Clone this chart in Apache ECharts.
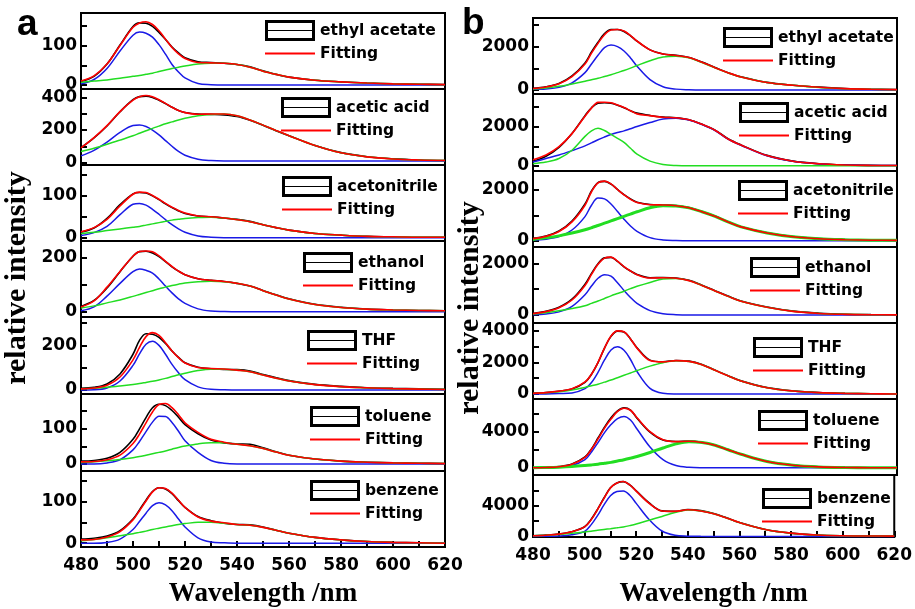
<!DOCTYPE html>
<html>
<head>
<meta charset="utf-8">
<script src="https://cdn.jsdelivr.net/npm/echarts@6/dist/echarts.min.js"></script>
<style>
  html, body { margin: 0; padding: 0; background: #fff; }
  #chart { width: 915px; height: 609px; }
</style>
</head>
<body>
<div id="chart"></div>
<script>
// Emission wavelength grid (nm), denser around the main emission band
const WAVELENGTH = [480, 485, 490, 495, 500, 502.5, 505, 507.5, 510, 512.5, 515, 517.5, 520, 525, 530, 535, 540, 545, 550, 555, 560, 570, 580, 590, 600, 610, 620];

const SOLVENTS = ['ethyl acetate', 'acetic acid', 'acetonitrile', 'ethanol', 'THF', 'toluene', 'benzene'];

// ---- panel a : measured spectrum, fitted sum and the two fitted bands ----
const A_EA_MEASURED = [9, 22, 53, 101, 148, 157, 156, 148, 133, 115, 96, 81, 69, 59, 57, 55, 52, 46, 36, 27, 20, 12, 8, 5, 3, 2, 1];
const A_EA_FIT      = [10, 23, 53, 100, 146, 157, 160, 153, 137, 116, 95, 79, 67, 57, 56, 55, 52, 45, 35, 27, 20, 12, 8, 5, 3, 2, 1];
const A_EA_BAND1    = [3, 14, 42, 86, 126, 134, 131, 121, 102, 78, 52, 33, 18, 4, 1, 0, 0, 0, 0, 0, 0, 0, 0, 0, 0, 0, 0];
const A_EA_BAND2    = [7, 10, 13, 17, 22, 24, 27, 30, 34, 38, 42, 45, 48, 53, 55, 55, 52, 45, 35, 27, 20, 12, 8, 5, 3, 2, 1];

const A_AA_MEASURED = [92, 152, 225, 312, 386, 405, 408, 400, 383, 362, 340, 320, 308, 298, 296, 293, 283, 260, 229, 196, 165, 105, 61, 36, 23, 16, 13];
const A_AA_FIT      = [90, 153, 227, 313, 383, 404, 412, 404, 386, 364, 340, 320, 307, 297, 298, 298, 288, 262, 230, 197, 165, 105, 60, 35, 22, 16, 13];
const A_AA_BAND1    = [41, 75, 125, 185, 228, 231, 222, 200, 170, 135, 100, 68, 45, 20, 12, 10, 10, 10, 10, 10, 10, 10, 10, 10, 10, 10, 10];
const A_AA_BAND2    = [68, 88, 112, 138, 165, 180, 195, 210, 224, 238, 250, 262, 272, 287, 296, 298, 288, 262, 230, 197, 165, 105, 60, 35, 22, 16, 13];

const A_AN_MEASURED = [13, 23, 46, 79, 105, 108, 107, 100, 91, 81, 72, 64, 58, 52, 50, 47, 44, 39, 31, 24, 18, 10, 6, 3, 2, 1, 1];
const A_AN_FIT      = [14, 24, 44, 76, 104, 109, 108, 101, 92, 82, 73, 65, 59, 52, 50, 47, 43, 38, 31, 24, 18, 10, 6, 3, 2, 1, 1];
const A_AN_BAND1    = [5, 12, 27, 55, 80, 82, 78, 68, 56, 43, 31, 21, 13, 4, 1, 0, 0, 0, 0, 0, 0, 0, 0, 0, 0, 0, 0];
const A_AN_BAND2    = [10, 13, 17, 21, 25, 27, 30, 33, 36, 39, 42, 44, 46, 48, 49, 47, 43, 38, 31, 24, 18, 10, 6, 3, 2, 1, 1];

const A_ET_MEASURED = [20, 42, 88, 148, 205, 222, 223, 217, 204, 185, 166, 150, 137, 122, 116, 112, 105, 95, 79, 63, 48, 28, 17, 10, 7, 5, 4];
const A_ET_FIT      = [18, 40, 91, 149, 205, 222, 224, 221, 206, 186, 167, 150, 137, 122, 116, 112, 105, 95, 78, 62, 47, 27, 16, 10, 7, 5, 4];
const A_ET_BAND1    = [4, 18, 58, 105, 148, 158, 153, 143, 121, 95, 70, 48, 31, 11, 3, 1, 0, 0, 0, 0, 0, 0, 0, 0, 0, 0, 0];
const A_ET_BAND2    = [14, 22, 33, 44, 57, 64, 71, 78, 85, 91, 97, 102, 106, 111, 113, 111, 105, 95, 78, 62, 47, 27, 16, 10, 7, 5, 4];

const A_THF_MEASURED = [8, 12, 27, 72, 160, 222, 252, 250, 236, 208, 175, 146, 122, 102, 95, 92, 91, 85, 69, 55, 42, 25, 16, 10, 7, 5, 3];
const A_THF_FIT      = [5, 9, 21, 58, 135, 191, 239, 257, 245, 212, 175, 145, 121, 101, 96, 94, 89, 82, 67, 53, 40, 24, 15, 10, 6, 4, 2];
const A_THF_BAND1    = [0, 1, 9, 40, 110, 162, 205, 218, 200, 160, 115, 77, 46, 14, 3, 1, 0, 0, 0, 0, 0, 0, 0, 0, 0, 0, 0];
const A_THF_BAND2    = [5, 8, 12, 18, 25, 29, 34, 39, 45, 52, 60, 68, 75, 87, 93, 93, 89, 82, 67, 53, 40, 24, 15, 10, 6, 4, 2];

const A_TOL_MEASURED = [8, 10, 16, 33, 70, 100, 132, 160, 170, 166, 152, 133, 112, 86, 68, 60, 57, 56, 46, 35, 25, 14, 8, 5, 3, 2, 1];
const A_TOL_FIT      = [6, 7, 12, 25, 58, 85, 117, 148, 169, 172, 160, 140, 117, 90, 70, 62, 56, 52, 44, 34, 25, 14, 8, 5, 3, 2, 1];
const A_TOL_BAND1    = [0, 0, 3, 12, 40, 64, 92, 119, 136, 135, 118, 93, 66, 33, 10, 2, 0, 0, 0, 0, 0, 0, 0, 0, 0, 0, 0];
const A_TOL_BAND2    = [4, 6, 9, 13, 18, 21, 25, 29, 33, 37, 42, 47, 51, 57, 60, 60, 56, 52, 44, 34, 25, 14, 8, 5, 3, 2, 1];

const A_BZ_MEASURED = [10, 12, 17, 30, 58, 80, 103, 124, 133, 130, 119, 102, 86, 64, 54, 48, 45, 44, 39, 31, 24, 14, 8, 4, 2, 1, 0];
const A_BZ_FIT      = [8, 9, 15, 28, 56, 78, 101, 123, 133, 131, 120, 103, 86, 63, 53, 49, 45, 43, 38, 31, 24, 14, 8, 4, 2, 1, 0];
const A_BZ_BAND1    = [0, 0, 2, 10, 33, 52, 72, 90, 97, 92, 78, 58, 39, 13, 3, 1, 0, 0, 0, 0, 0, 0, 0, 0, 0, 0, 0];
const A_BZ_BAND2    = [6, 9, 13, 18, 23, 26, 29, 33, 36, 39, 42, 45, 47, 50, 50, 48, 45, 43, 38, 31, 24, 14, 8, 4, 2, 1, 0];

// ---- panel b ----
const B_EA_MEASURED = [80, 150, 300, 650, 1250, 1750, 2200, 2600, 2790, 2790, 2700, 2500, 2250, 1850, 1660, 1600, 1500, 1290, 1040, 800, 610, 350, 220, 130, 70, 35, 15];
const B_EA_FIT      = [70, 140, 290, 620, 1200, 1700, 2150, 2550, 2770, 2790, 2720, 2510, 2260, 1850, 1660, 1590, 1500, 1280, 1030, 800, 600, 345, 215, 125, 65, 32, 15];
const B_EA_BAND1    = [30, 50, 120, 330, 800, 1200, 1600, 1950, 2070, 2000, 1800, 1480, 1100, 480, 150, 40, 10, 0, 0, 0, 0, 0, 0, 0, 0, 0, 0];
const B_EA_BAND2    = [50, 90, 170, 280, 400, 470, 540, 620, 700, 800, 900, 1010, 1130, 1350, 1520, 1560, 1480, 1260, 1020, 790, 600, 345, 215, 120, 60, 30, 15];

const B_AA_MEASURED = [240, 500, 950, 1650, 2550, 2950, 3180, 3200, 3180, 3080, 2950, 2800, 2680, 2560, 2480, 2440, 2340, 2110, 1820, 1380, 1070, 540, 250, 120, 60, 35, 25];
const B_AA_FIT      = [320, 560, 980, 1640, 2520, 2930, 3220, 3230, 3200, 3090, 2960, 2800, 2640, 2550, 2470, 2440, 2340, 2110, 1810, 1370, 1060, 530, 245, 115, 55, 32, 25];
const B_AA_BAND1    = [205, 380, 560, 780, 1020, 1170, 1330, 1470, 1600, 1700, 1780, 1890, 2000, 2200, 2380, 2420, 2330, 2100, 1800, 1360, 1050, 520, 240, 110, 50, 30, 25];
const B_AA_BAND2    = [120, 200, 380, 800, 1500, 1780, 1910, 1800, 1600, 1400, 1200, 900, 600, 250, 80, 25, 10, 10, 10, 10, 10, 10, 10, 10, 10, 10, 10];

const B_AN_MEASURED = [90, 180, 380, 770, 1450, 1960, 2290, 2340, 2230, 2020, 1820, 1650, 1520, 1430, 1410, 1385, 1305, 1150, 970, 750, 550, 310, 160, 80, 40, 20, 12];
const B_AN_FIT      = [80, 170, 360, 740, 1400, 1930, 2280, 2350, 2240, 2020, 1810, 1630, 1510, 1420, 1410, 1380, 1300, 1140, 960, 740, 545, 305, 155, 75, 38, 18, 12];
const B_AN_BAND1    = [26, 60, 160, 420, 950, 1400, 1680, 1650, 1450, 1150, 850, 580, 370, 120, 30, 8, 0, 0, 0, 0, 0, 0, 0, 0, 0, 0, 0];
const B_AN_BAND2    = [50, 110, 190, 300, 430, 510, 600, 690, 780, 870, 960, 1050, 1140, 1300, 1380, 1370, 1295, 1140, 960, 740, 545, 305, 155, 75, 38, 18, 12];

const B_ET_MEASURED = [60, 140, 300, 610, 1190, 1610, 1980, 2210, 2230, 2070, 1860, 1700, 1570, 1440, 1450, 1430, 1340, 1150, 940, 730, 540, 310, 150, 70, 30, 15, 8];
const B_ET_FIT      = [53, 130, 280, 580, 1140, 1570, 1960, 2200, 2240, 2080, 1870, 1700, 1560, 1430, 1440, 1422, 1330, 1140, 930, 720, 530, 300, 140, 60, 25, 10, 5];
const B_ET_BAND1    = [13, 40, 120, 330, 780, 1120, 1420, 1560, 1500, 1250, 950, 680, 450, 170, 50, 12, 0, 0, 0, 0, 0, 0, 0, 0, 0, 0, 0];
const B_ET_BAND2    = [40, 90, 160, 250, 360, 450, 540, 640, 740, 830, 920, 1020, 1110, 1260, 1390, 1410, 1330, 1140, 930, 720, 530, 300, 140, 60, 25, 10, 5];

const B_THF_MEASURED = [40, 85, 175, 320, 740, 1250, 1980, 2900, 3640, 3970, 3920, 3480, 2920, 2140, 2040, 2120, 2080, 1870, 1510, 1160, 830, 410, 200, 90, 45, 18, 6];
const B_THF_FIT      = [40, 85, 180, 330, 760, 1250, 2000, 2900, 3660, 3990, 3930, 3480, 2900, 2120, 2030, 2110, 2060, 1850, 1500, 1150, 820, 400, 190, 85, 40, 15, 5];
const B_THF_BAND1    = [0, 5, 30, 70, 340, 730, 1370, 2150, 2780, 2980, 2760, 2180, 1420, 360, 50, 5, 0, 0, 0, 0, 0, 0, 0, 0, 0, 0, 0];
const B_THF_BAND2    = [40, 80, 150, 260, 420, 520, 620, 750, 880, 1030, 1180, 1330, 1480, 1760, 1980, 2100, 2060, 1850, 1500, 1150, 820, 400, 190, 85, 40, 15, 5];

const B_TOL_MEASURED = [15, 40, 130, 420, 1200, 2100, 3300, 4500, 5550, 6300, 6650, 6400, 5500, 3950, 3080, 2920, 2960, 2830, 2520, 2020, 1510, 710, 300, 110, 35, 12, 2];
const B_TOL_FIT      = [10, 35, 120, 390, 1150, 2050, 3200, 4400, 5400, 6250, 6600, 6380, 5550, 4000, 3100, 2900, 2940, 2805, 2500, 2000, 1500, 700, 290, 100, 30, 10, 0];
const B_TOL_BAND1    = [0, 5, 50, 250, 900, 1750, 2800, 3900, 4800, 5450, 5700, 5300, 4300, 2300, 900, 250, 50, 5, 0, 0, 0, 0, 0, 0, 0, 0, 0];
const B_TOL_BAND2    = [10, 30, 70, 140, 250, 320, 400, 500, 600, 750, 900, 1070, 1250, 1700, 2200, 2650, 2890, 2800, 2500, 2000, 1500, 700, 290, 100, 30, 10, 0];

const B_BZ_MEASURED = [85, 160, 300, 610, 1250, 2200, 3520, 5000, 6330, 6950, 7130, 6700, 5920, 4350, 3320, 3260, 3500, 3350, 2980, 2420, 1810, 900, 420, 180, 80, 45, 40];
const B_BZ_FIT      = [75, 155, 290, 600, 1230, 2150, 3500, 4950, 6300, 6950, 7150, 6700, 5900, 4300, 3300, 3250, 3460, 3305, 2950, 2400, 1800, 900, 420, 180, 80, 45, 40];
const B_BZ_BAND1    = [0, 5, 40, 200, 650, 1500, 2700, 4100, 5300, 5850, 5920, 5350, 4300, 2200, 700, 150, 30, 5, 0, 0, 0, 0, 0, 0, 0, 0, 0];
const B_BZ_BAND2    = [75, 150, 250, 400, 580, 680, 800, 900, 1000, 1110, 1230, 1400, 1600, 2100, 2600, 3100, 3430, 3300, 2950, 2400, 1800, 900, 420, 180, 80, 45, 40];

// y-axis extents and tick spacing for each stacked subplot
const A_Y_MIN = [-10, -15, -8, -19, -18, -20, -9];
const A_Y_MAX = [182, 452, 174, 261, 327, 199, 173];
const A_Y_TICK = [50, 100, 50, 100, 100, 50, 50];
const A_Y_LABEL = [100, 200, 100, 200, 200, 100, 100];

const B_Y_MIN = [-185, -250, -250, -310, -315, -800, -80];
const B_Y_MAX = [3320, 3645, 2750, 2630, 4485, 7630, 7990];
const B_Y_TICK = [1000, 1000, 1000, 1000, 1000, 2000, 2000];
const B_Y_LABEL = [2000, 2000, 2000, 2000, 2000, 4000, 4000];

const X_MIN = 480, X_MAX = 620, X_TICK = 20;

// ---- layout ----
const A_LEFT = 81, B_LEFT = 533, PLOT_WIDTH = 364;
const A_EDGES = [13, 89, 165, 241, 317, 394, 471, 547];
const B_EDGES = [18, 94, 171, 247, 323, 399, 475, 548];
const A_LEGEND_POS = [[265, 20], [281, 97], [282, 176], [303, 252], [307, 330], [310, 406], [310, 480]];
const B_LEGEND_POS = [[723, 27], [739, 102], [738, 180], [750, 257], [753, 337], [758, 410], [762, 488]];
const A_NAME_GAP = 34, B_NAME_GAP = 44;

const PANEL_A = [
  [A_EA_MEASURED, A_EA_FIT, A_EA_BAND1, A_EA_BAND2],
  [A_AA_MEASURED, A_AA_FIT, A_AA_BAND1, A_AA_BAND2],
  [A_AN_MEASURED, A_AN_FIT, A_AN_BAND1, A_AN_BAND2],
  [A_ET_MEASURED, A_ET_FIT, A_ET_BAND1, A_ET_BAND2],
  [A_THF_MEASURED, A_THF_FIT, A_THF_BAND1, A_THF_BAND2],
  [A_TOL_MEASURED, A_TOL_FIT, A_TOL_BAND1, A_TOL_BAND2],
  [A_BZ_MEASURED, A_BZ_FIT, A_BZ_BAND1, A_BZ_BAND2]
];
const PANEL_B = [
  [B_EA_MEASURED, B_EA_FIT, B_EA_BAND1, B_EA_BAND2],
  [B_AA_MEASURED, B_AA_FIT, B_AA_BAND1, B_AA_BAND2],
  [B_AN_MEASURED, B_AN_FIT, B_AN_BAND1, B_AN_BAND2],
  [B_ET_MEASURED, B_ET_FIT, B_ET_BAND1, B_ET_BAND2],
  [B_THF_MEASURED, B_THF_FIT, B_THF_BAND1, B_THF_BAND2],
  [B_TOL_MEASURED, B_TOL_FIT, B_TOL_BAND1, B_TOL_BAND2],
  [B_BZ_MEASURED, B_BZ_FIT, B_BZ_BAND1, B_BZ_BAND2]
];
// the green band is drawn heavier in a couple of panel-b plots
const A_BAND2_WIDTH = [1.5, 1.5, 1.5, 1.5, 1.5, 1.5, 1.5];
const B_BAND2_WIDTH = [1.5, 1.5, 3, 1.5, 1.5, 3, 1.5];

const SANS = '"Liberation Sans", Arial, sans-serif';
const WIDE_SANS = '"DejaVu Sans", Verdana, sans-serif';
const SERIF = '"Liberation Serif", "Times New Roman", serif';
const COLOR_DATA = '#000000', COLOR_FIT = '#ff0000', COLOR_BLUE = '#1a1ae6', COLOR_GREEN = '#22dd22';
const BOX_ICON = 'path://M0,0L50,0L50,21L0,21Z M3,3L3,18L47,18L47,3Z M3,10L47,10L47,11L3,11Z';
const LINE_ICON = 'path://M0,0L50,0L50,2L0,2Z';

const grids = [], xAxes = [], yAxes = [], series = [], legends = [];

function pairs(values) {
  return WAVELENGTH.map((w, k) => [w, values[k]]);
}

function addPanel(left, edges, yMin, yMax, yTick, yLabel, curves, legendPos, band2Width, nameGap) {
  for (let i = 0; i < 7; i++) {
    const idx = grids.length;
    const bottomPlot = i === 6;
    grids.push({
      left: left, top: edges[i], width: PLOT_WIDTH, height: edges[i + 1] - edges[i],
      show: true, borderColor: '#000', borderWidth: 2, backgroundColor: 'transparent'
    });
    xAxes.push({
      type: 'value', gridIndex: idx, min: X_MIN, max: X_MAX, interval: X_TICK,
      axisLine: { show: true, onZero: false, lineStyle: { color: '#000', width: 2 } },
      axisTick: { show: bottomPlot, inside: true, length: 6, lineStyle: { color: '#000', width: 2 } },
      minorTick: { show: bottomPlot, splitNumber: 2, length: 6, lineStyle: { color: '#000', width: 2 } },
      axisLabel: { show: bottomPlot, color: '#000', fontFamily: WIDE_SANS, fontWeight: 'bold', fontSize: 17, margin: 10 },
      splitLine: { show: false },
      name: bottomPlot ? 'Wavelength /nm' : '',
      nameLocation: 'middle', nameGap: nameGap,
      nameTextStyle: { color: '#000', fontFamily: SERIF, fontWeight: 'bold', fontSize: 27 }
    });
    const labelStep = yLabel[i];
    yAxes.push({
      type: 'value', gridIndex: idx, min: yMin[i], max: yMax[i],
      minInterval: yTick[i], maxInterval: yTick[i],
      axisLine: { show: true, onZero: false, lineStyle: { color: '#000', width: 2 } },
      axisTick: { show: true, inside: true, length: 6, lineStyle: { color: '#000', width: 2 } },
      axisLabel: {
        color: '#000', fontFamily: WIDE_SANS, fontWeight: 'bold', fontSize: 17, margin: 4,
        formatter: v => (v % labelStep === 0 ? String(v) : '')
      },
      splitLine: { show: false }
    });
    const [measured, fit, band1, band2] = curves[i];
    const common = { type: 'line', xAxisIndex: idx, yAxisIndex: idx, showSymbol: false, symbol: 'none', smooth: 0.35, animation: false, silent: true };
    series.push(Object.assign({}, common, { name: SOLVENTS[i], data: pairs(measured), lineStyle: { color: COLOR_DATA, width: 1.6 }, itemStyle: { color: COLOR_DATA }, z: 2 }));
    series.push(Object.assign({}, common, { name: 'band1', data: pairs(band1), lineStyle: { color: COLOR_BLUE, width: 1.5 }, itemStyle: { color: COLOR_BLUE }, z: 3 }));
    series.push(Object.assign({}, common, { name: 'band2', data: pairs(band2), lineStyle: { color: COLOR_GREEN, width: band2Width[i] }, itemStyle: { color: COLOR_GREEN }, z: 3 }));
    series.push(Object.assign({}, common, { name: 'Fitting', data: pairs(fit), lineStyle: { color: COLOR_FIT, width: 1.6 }, itemStyle: { color: COLOR_FIT }, z: 4 }));
    legends.push({
      left: legendPos[i][0], top: legendPos[i][1], orient: 'vertical', padding: 0,
      itemWidth: 50, itemHeight: 21, itemGap: 4.5, selectedMode: false,
      itemStyle: { borderWidth: 0 },
      textStyle: { color: '#000', fontFamily: WIDE_SANS, fontWeight: 'bold', fontSize: 15.5 },
      data: [{ name: SOLVENTS[i], icon: BOX_ICON }, { name: 'Fitting', icon: LINE_ICON }]
    });
  }
}

addPanel(A_LEFT, A_EDGES, A_Y_MIN, A_Y_MAX, A_Y_TICK, A_Y_LABEL, PANEL_A, A_LEGEND_POS, A_BAND2_WIDTH, A_NAME_GAP);
addPanel(B_LEFT, B_EDGES, B_Y_MIN, B_Y_MAX, B_Y_TICK, B_Y_LABEL, PANEL_B, B_LEGEND_POS, B_BAND2_WIDTH, B_NAME_GAP);

const chart = echarts.init(document.getElementById('chart'), null, { renderer: 'canvas' });
chart.setOption({
  animation: false,
  backgroundColor: '#fff',
  grid: grids,
  xAxis: xAxes,
  yAxis: yAxes,
  series: series,
  legend: legends,
  graphic: [
    { type: 'text', left: 17, top: 6, style: { text: 'a', font: 'bold 37px ' + SANS, fill: '#000' } },
    { type: 'text', left: 462, top: 5, style: { text: 'b', font: 'bold 37px ' + SANS, fill: '#000' } },
    { type: 'text', x: 17, y: 278, rotation: Math.PI / 2,
      style: { text: 'relative intensity', font: 'bold 30px ' + SERIF, fill: '#000', align: 'center', verticalAlign: 'middle' } },
    { type: 'text', x: 470, y: 308, rotation: Math.PI / 2,
      style: { text: 'relative intensity', font: 'bold 30px ' + SERIF, fill: '#000', align: 'center', verticalAlign: 'middle' } }
  ]
});
</script>
</body>
</html>
